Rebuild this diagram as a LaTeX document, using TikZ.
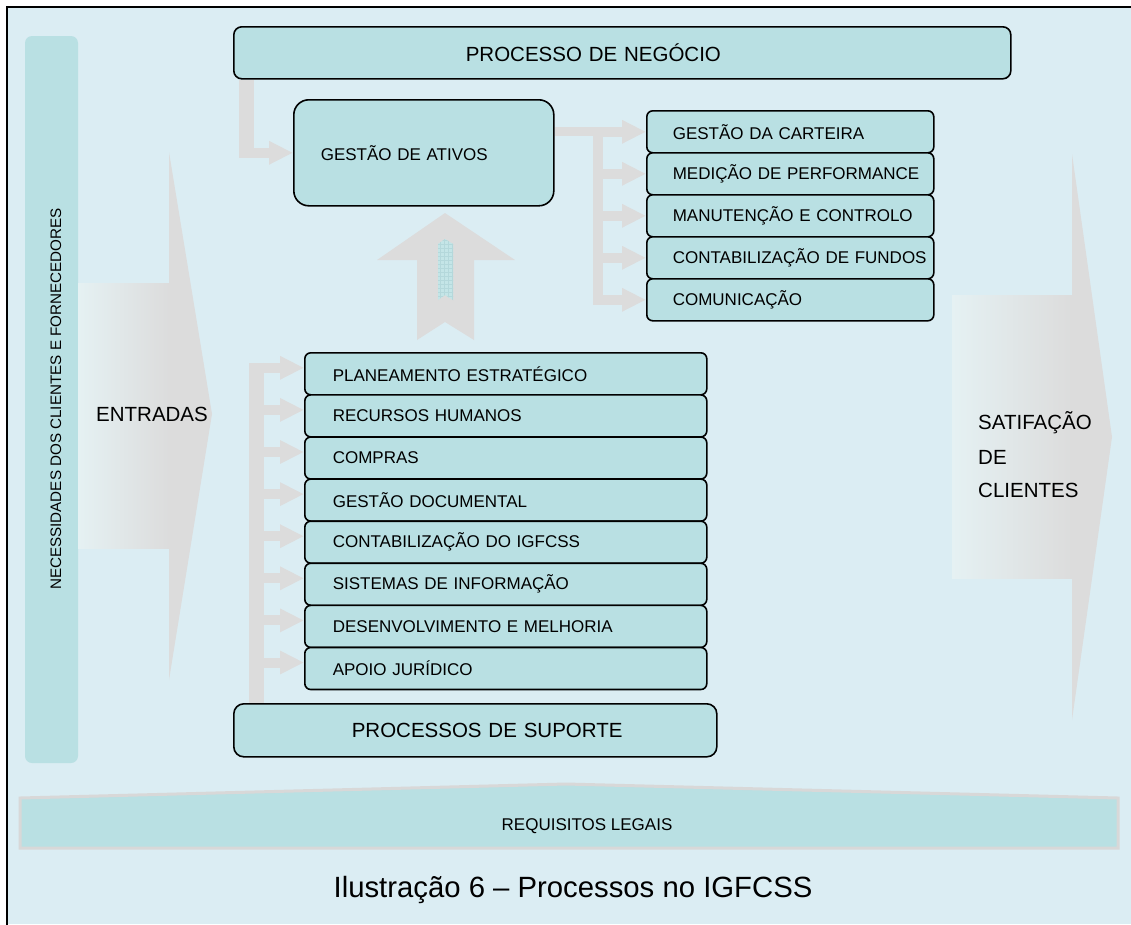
\documentclass[tikz,border=0pt]{standalone}
\usepackage{fontspec}
\setmainfont{Liberation Sans}
\usetikzlibrary{arrows.meta,calc}
\definecolor{bg}{HTML}{DBEDF3}
\definecolor{boxc}{HTML}{B9E0E3}
\definecolor{arr}{HTML}{DCDCDC}
\definecolor{lightc}{HTML}{E5F1F3}
\definecolor{frm}{HTML}{D8D8D8}
\pgfdeclarelayer{back}
\pgfdeclarelayer{conn}
\pgfsetlayers{back,conn,main}
\begin{document}
\begin{tikzpicture}[x=1pt,y=-1pt,
  box/.style={draw=black, line width=1.6pt, fill=boxc, inner sep=0pt, anchor=north west, align=left},
  small/.style={font=\fontsize{17}{20}\selectfont},
  big/.style={font=\fontsize{20.5}{24}\selectfont},
  lbl/.style={inner sep=0pt},
  blk/.style={draw=arr, line width=10pt, -{Triangle[length=24pt,width=22pt]}},
]
\useasboundingbox (0,0) rectangle (1131,924);

% ---- boxes ----
\node[box, rounded corners=8pt, text width=777pt, minimum height=52pt, big] (pn) at (233,26) {\hspace*{232pt}PROCESSO DE NEGÓCIO};
\node[box, rounded corners=15pt, text width=260pt, minimum height=106pt, small] (ga) at (293,99) {\hspace*{27pt}GESTÃO DE ATIVOS};

\foreach \t [count=\i] in {GESTÃO DA CARTEIRA, MEDIÇÃO DE PERFORMANCE, MANUTENÇÃO E CONTROLO, CONTABILIZAÇÃO DE FUNDOS, COMUNICAÇÃO}
  \node[box, rounded corners=6pt, text width=287pt, minimum height=42pt, small] (c\i) at (646,{110+42*(\i-1)}) {\hspace*{26pt}\t};

\foreach \t [count=\i] in {PLANEAMENTO ESTRATÉGICO, RECURSOS HUMANOS, COMPRAS, GESTÃO DOCUMENTAL, CONTABILIZAÇÃO DO IGFCSS, SISTEMAS DE INFORMAÇÃO, DESENVOLVIMENTO E MELHORIA, APOIO JURÍDICO}
  \node[box, rounded corners=6pt, text width=402pt, minimum height=42pt, small] (s\i) at (304,{352+42.1*(\i-1)}) {\hspace*{28pt}\t};

\node[box, rounded corners=10pt, text width=483pt, minimum height=53pt, big] (ps) at (233,703) {\hspace*{118pt}PROCESSOS DE SUPORTE};

% ---- static background shapes ----
\begin{pgfonlayer}{back}
\fill[bg] (7,7) rectangle (1131,924);
\fill[boxc, rounded corners=7pt] (25,36) rectangle (78,763);
% ENTRADAS arrow
\shade[left color=lightc, right color=arr] (78,283) rectangle (169,548);
\fill[arr] (169,152) -- (212,414) -- (169,680) -- cycle;
% SATISFACAO arrow
\shade[left color=lightc, right color=arr] (952,295) rectangle (1072,578);
\fill[arr] (1072,154) -- (1112,437) -- (1072,720) -- cycle;
% up arrow
\fill[arr] (445,213) -- (515,260) -- (474,260) -- (474,340) -- (445,322) -- (417,340) -- (417,260) -- (377,260) -- cycle;
\begin{scope}
\clip (445,239) -- (453,244) -- (453,300) -- (445,295) -- (438,300) -- (438,244) -- cycle;
\fill[boxc!85!white] (436,236) rectangle (456,302);
\draw[boxc!92!gray, line width=0.25pt] (436,236) grid[step=4pt] (456,302);
\end{scope}
% requisitos band
\filldraw[fill=boxc, draw=frm, line width=3pt] (20,798) -- (566,784) -- (1118,798) -- (1118,848) -- (20,848) -- cycle;
\draw[line width=2.4pt] (7,940) -- (7,7) -- (1140,7);
\end{pgfonlayer}

% ---- connectors ----
\begin{pgfonlayer}{conn}
\fill[arr] ($(pn.south west)+(6,0)$) rectangle ($(ga.west)+(-39,5)$);
\draw[blk] ($(ga.west)+(-54,0)$) -- (ga.west);
\draw[arr, line width=9pt] (ga.east |- c1.west) -- ($(c1.west)+(-43,0)$);
\draw[arr, line width=10pt] ($(c1.west)+(-48,-4.5)$) -- ($(c5.west)+(-48,5)$);
\foreach \i in {1,...,5}
  \draw[blk] ($(c\i.west)+(-48,0)$) -- (c\i.west);
\draw[arr, line width=15pt] ($(s1.west)+(-47.5,-11)$) -- ($(ps.north west)+(23.5,0)$);
\foreach \i in {1,...,8}
  \draw[blk] ($(s\i.west)+(-47.5,-6)$) -- ($(s\i.west)+(0,-6)$);
\end{pgfonlayer}

% ---- labels ----
\node[lbl, rotate=90, font=\fontsize{15.2}{16}\selectfont] (need) at (56,399) {NECESSIDADES DOS CLIENTES E FORNECEDORES};
\node[lbl, big, anchor=base west] (ent) at (96,421) {ENTRADAS};
\node[lbl, big, anchor=base west] (sat1) at (978,429) {SATIFAÇÃO};
\node[lbl, big, anchor=base west] (sat2) at (978,464) {DE};
\node[lbl, big, anchor=base west] (sat3) at (978,497) {CLIENTES};
\node[lbl, anchor=base, font=\fontsize{17}{20}\selectfont] (req) at (587,830) {REQUISITOS LEGAIS};
\node[lbl, anchor=base, font=\fontsize{29.3}{34}\selectfont] (cap) at (573,897) {Ilustração 6 – Processos no IGFCSS};
\end{tikzpicture}
\end{document}
